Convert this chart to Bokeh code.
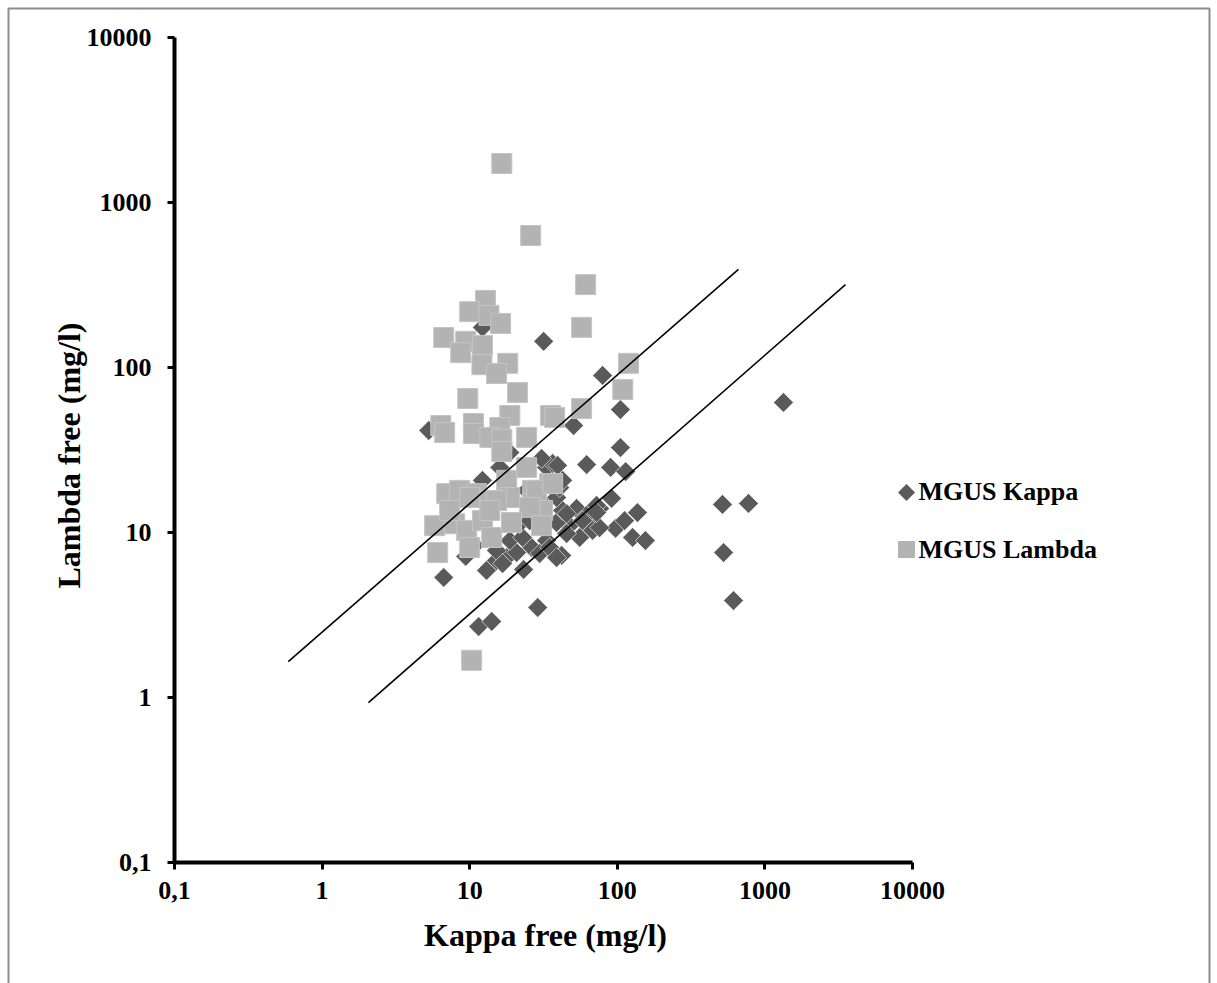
import numpy as np
from bokeh.plotting import figure
from bokeh.models import Range1d, LogAxis, FixedTicker, LinearScale, Label, CustomJSTickFormatter
from bokeh.embed import file_html
from bokeh.resources import INLINE

# MGUS patients with a kappa M-protein: free kappa / free lambda (mg/l)
kappa_free_k = [1336, 516, 774, 525, 613, 79.5, 105, 105, 62.0, 90.1, 114, 91.5, 75.9, 67.0,
                68.0, 97.3, 112, 137, 127, 155, 31.7, 50.6, 12.2, 5.28, 6.67, 28.9, 11.5, 14.1,
                23.2, 13.0, 9.4, 15.2, 17.8, 20.8, 26.3, 29.8, 42.0, 33.2, 47.5, 38.8, 42.6, 53.0,
                62.0, 72.4, 75.9, 38.8, 40.7, 33.2, 36.5, 16.0, 12.2, 18.7, 22.8, 21.8, 15.2, 16.7,
                30.7, 39.4, 42.6, 18.7, 45.4, 58.2, 55.6, 34.8, 72.4, 25.5, 29.8, 24.3, 10.8, 38.8,
                45.4]
lambda_free_k = [61.4, 14.8, 15.0, 7.56, 3.87, 89.5, 55.6, 32.7, 25.8, 24.8, 23.4, 16.1, 14.0, 12.3,
                 10.3, 10.6, 11.8, 13.2, 9.33, 8.94, 144, 44.5, 175, 41.5, 5.34, 3.51, 2.69, 2.89,
                 5.97, 5.89, 7.16, 6.76, 7.05, 7.56, 8.11, 7.46, 7.26, 8.94, 11.0, 11.5, 13.6, 14.0,
                 12.7, 14.6, 10.7, 16.3, 18.7, 24.8, 26.2, 24.8, 20.7, 8.94, 9.33, 11.3, 7.78, 6.49,
                 28.1, 25.5, 20.7, 30.5, 13.0, 11.8, 9.33, 8.11, 13.2, 11.8, 15.6, 18.0, 8.34, 7.05,
                 9.86]

# MGUS patients with a lambda M-protein
kappa_free_l = [16.5, 25.9, 61.0, 57.3, 119, 109, 57.3, 35.3, 37.6, 12.8, 10.0, 13.5, 16.2, 6.67,
                9.4, 12.2, 8.69, 12.1, 18.1, 15.2, 21.1, 9.7, 18.7, 16.0, 6.37, 6.77, 10.6, 10.6,
                13.7, 16.5, 24.3, 16.5, 24.3, 6.99, 8.55, 11.1, 13.7, 17.8, 18.7, 26.7, 34.8, 26.7,
                31.2, 10.0, 15.2, 28.4, 36.5, 25.5, 5.79, 7.91, 9.54, 12.2, 14.1, 19.2, 30.7, 6.07,
                10.0, 13.7, 7.32, 10.3]
lambda_free_l = [1722, 631, 318, 175, 106, 73.6, 56.4, 51.2, 49.8, 255, 218, 207, 185, 152,
                 144, 136, 123, 104, 106, 92.0, 70.6, 64.9, 51.2, 43.3, 44.5, 40.4, 45.8, 39.8,
                 37.7, 36.6, 37.7, 31.0, 24.8, 17.2, 18.0, 17.2, 15.6, 20.7, 16.3, 18.0, 19.8, 15.0,
                 13.6, 16.3, 15.6, 18.0, 19.8, 14.2, 11.0, 11.3, 10.3, 11.8, 9.33, 11.5, 11.0, 7.56,
                 8.11, 13.6, 13.6, 1.68]

# reference ratio lines (end points)
upper_line_x = [0.59, 662]
upper_line_y = [1.65, 393]
lower_line_x = [2.06, 3516]
lower_line_y = [0.93, 318]

tick_values = [0.1, 1, 10, 100, 1000, 10000]
tick_labels = ["0,1", "1", "10", "100", "1000", "10000"]

W, H = 1217, 983
# pixel anchors of the axis box: 0.1 and 10000 on each axis
AX_LEFT, AX_RIGHT = 174, 912
AX_BOTTOM, AX_TOP = 862, 37

lo, hi = np.log10(tick_values[0]), np.log10(tick_values[-1])
xd = (AX_RIGHT - AX_LEFT) / (hi - lo)
yd = (AX_BOTTOM - AX_TOP) / (hi - lo)
x_start = 10 ** (lo - AX_LEFT / xd)
x_end = 10 ** (hi + (W - AX_RIGHT) / xd)
y_start = 10 ** (lo - (H - AX_BOTTOM) / yd)
y_end = 10 ** (hi + AX_TOP / yd)

FONT = "Liberation Serif"

p = figure(width=W, height=H, x_axis_type="log", y_axis_type="log",
           x_range=Range1d(x_start, x_end), y_range=Range1d(y_start, y_end),
           x_axis_location=None, y_axis_location=None, min_border=0,
           toolbar_location=None, output_backend="svg", outline_line_color=None,
           background_fill_color="white", border_fill_color="white")
p.xgrid.visible = False
p.ygrid.visible = False

# pixel-space ranges for the frame decoration and the legend
p.extra_x_ranges = {"px": Range1d(0, W)}
p.extra_y_ranges = {"px": Range1d(H, 0)}
p.extra_x_scales = {"px": LinearScale()}
p.extra_y_scales = {"px": LinearScale()}

# outer grey border (open at the bottom)
p.line([8, 8, 1209, 1209], [H, 8, 8, H], x_range_name="px", y_range_name="px",
       line_color="#8c8c8c", line_width=2)

fmt = CustomJSTickFormatter(args=dict(vals=tick_values, labs=tick_labels), code="""
    let best = 0;
    const lt = Math.log10(tick);
    for (let i = 0; i < vals.length; i++) {
        if (Math.abs(Math.log10(vals[i]) - lt) < Math.abs(Math.log10(vals[best]) - lt)) best = i;
    }
    return labs[best];
""")


def style_axis(ax, standoff):
    ax.ticker = FixedTicker(ticks=tick_values)
    ax.formatter = fmt
    ax.axis_line_width = 4
    ax.axis_line_color = "black"
    ax.major_tick_line_width = 3
    ax.major_tick_line_color = "black"
    ax.major_tick_in = 0
    ax.major_tick_out = 7
    ax.minor_tick_in = 0
    ax.minor_tick_out = 0
    ax.major_label_text_font = FONT
    ax.major_label_text_font_style = "bold"
    ax.major_label_text_font_size = "26px"
    ax.major_label_text_color = "black"
    ax.major_label_standoff = standoff


xaxis = LogAxis(fixed_location=tick_values[0], bounds=(tick_values[0], tick_values[-1]))
style_axis(xaxis, 12)
p.add_layout(xaxis, "below")

yaxis = LogAxis(fixed_location=tick_values[0], bounds=(tick_values[0], tick_values[-1]))
style_axis(yaxis, 16)
p.add_layout(yaxis, "left")

KAPPA_COLOR = "#5a5a5a"
LAMBDA_COLOR = "#b3b3b3"

p.scatter(kappa_free_k, lambda_free_k, marker="square", size=14, angle=np.pi / 4,
          fill_color=KAPPA_COLOR, line_color="white", line_width=0.6)
p.scatter(kappa_free_l, lambda_free_l, marker="square", size=20,
          fill_color=LAMBDA_COLOR, line_color="#c4c4c4", line_width=1)

p.line(upper_line_x, upper_line_y, line_color="black", line_width=1.6)
p.line(lower_line_x, lower_line_y, line_color="black", line_width=1.6)

# legend
p.scatter([906], [492], marker="square", size=12, angle=np.pi / 4, fill_color=KAPPA_COLOR,
          line_color=None, x_range_name="px", y_range_name="px")
p.scatter([906], [549], marker="square", size=17, fill_color=LAMBDA_COLOR,
          line_color=None, x_range_name="px", y_range_name="px")

text_kw = dict(x_units="screen", y_units="screen", text_font=FONT, text_font_style="bold",
               text_color="black", text_baseline="middle")
p.add_layout(Label(x=918, y=H - 491, text="MGUS Kappa", text_font_size="26px", **text_kw))
p.add_layout(Label(x=918, y=H - 549, text="MGUS Lambda", text_font_size="26px", **text_kw))

# axis titles
p.add_layout(Label(x=545, y=H - 934, text="Kappa free (mg/l)", text_align="center",
                   text_font_size="32px", **text_kw))
p.add_layout(Label(x=68, y=H - 455, text="Lambda free (mg/l)", text_align="center",
                   angle=np.pi / 2, text_font_size="32px", **text_kw))

open("out.html", "w").write(file_html(p, INLINE))
